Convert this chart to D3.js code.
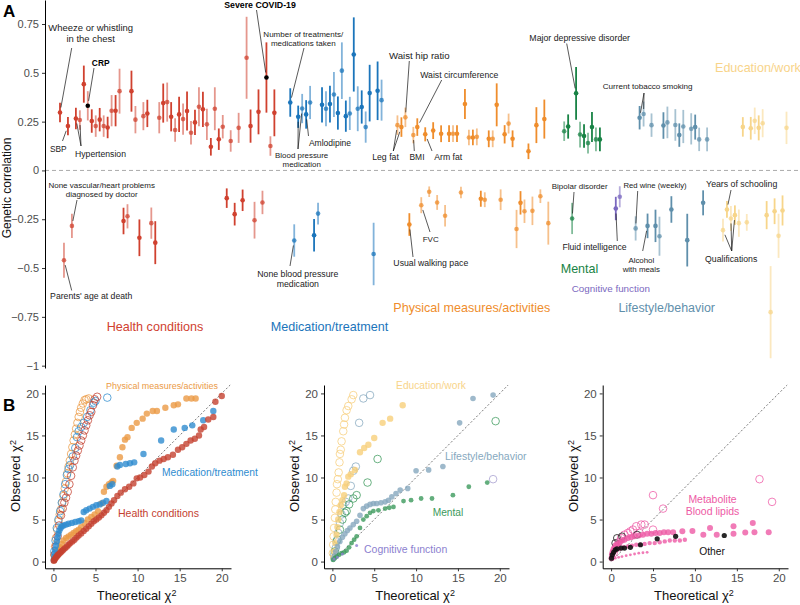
<!DOCTYPE html>
<html>
<head>
<meta charset="utf-8">
<script src="https://cdn.jsdelivr.net/npm/d3@7"></script>
<style>
  body { margin: 0; background: #fff; }
  svg { display: block; font-family: "Liberation Sans", Arial, Helvetica, sans-serif; }
</style>
</head>
<body>
<div id="chart"></div>
<script>
const width = 800;
const height = 605;

// ---- Panel A: genetic correlations, one slot per trait ----
const categories = ["Health conditions", "Medication/treatment", "Physical measures/activities",
  "Mental", "Cognitive function", "Lifestyle/behavior", "Education/work"];

const healthIdx = [0,1,2,3,4,5,6,7,8,9,10,11,12,13,14,15,16,17,18,19,20,21,22,23,24,25,26,27,28,29,30,31,32,33,34,35,36,37,38,39,40,41,42,43,44,45,46,47,48,49,50,51,52,53,54];
const healthRg = [0.297,-0.46,0.227,-0.284,0.266,0.258,0.442,0.331,0.253,0.227,0.26,0.227,0.22,0.306,0.306,0.406,-0.259,-0.235,0.406,0.26,-0.345,0.278,0.292,-0.27,-0.37,0.27,0.345,0.35,0.275,0.207,0.287,0.263,0.304,0.193,0.246,0.326,0.313,0.236,0.121,0.316,0.16,0.224,-0.142,0.151,-0.224,0.218,-0.153,0.577,0.227,-0.255,0.3,-0.164,0.476,0.125,0.295];
const healthCi = [0.05,0.09,0.047,0.062,0.055,0.05,0.095,0.075,0.06,0.055,0.06,0.055,0.055,0.08,0.08,0.115,0.068,0.062,0.105,0.07,0.094,0.072,0.07,0.08,0.11,0.08,0.1,0.1,0.075,0.06,0.09,0.08,0.1,0.06,0.065,0.1,0.09,0.08,0.045,0.11,0.055,0.06,0.05,0.055,0.058,0.077,0.055,0.21,0.085,0.094,0.115,0.06,0.18,0.05,0.12];

const medIdx = [58,59,60,61,62,63,64,65,66,67,68,69,70,71,72,73,74,75,76,77,78,79,80,81];
const medRg = [0.348,-0.359,0.275,0.317,0.287,0.348,-0.332,-0.221,0.336,0.316,0.34,0.389,0.294,0.511,0.278,0.292,0.594,0.316,0.325,0.222,0.396,-0.428,0.408,0.36];
const medCi = [0.073,0.083,0.057,0.075,0.073,0.085,0.083,0.056,0.09,0.09,0.094,0.115,0.085,0.145,0.08,0.085,0.19,0.115,0.085,0.08,0.145,0.16,0.15,0.105];

const physIdx = [85,86,87,88,89,90,91,92,93,94,95,96,97,98,99,100,101,102,103,104,105,106,107,108,109,110,111,112,113,114,115,116,117,118,119,120,121,122,123];
const physRg = [0.232,0.222,0.272,-0.277,0.181,0.222,-0.178,0.185,-0.109,0.204,-0.164,0.188,-0.232,0.188,0.188,0.188,-0.113,0.34,0.169,0.169,0.172,-0.145,-0.15,0.162,0.162,0.336,-0.15,0.185,0.24,0.162,-0.3,-0.166,-0.209,0.098,-0.207,0.232,-0.132,0.263,-0.27];
const physCi = [0.05,0.05,0.05,0.058,0.042,0.045,0.041,0.036,0.027,0.043,0.038,0.043,0.055,0.043,0.043,0.043,0.03,0.077,0.04,0.04,0.043,0.041,0.038,0.043,0.043,0.11,0.053,0.047,0.051,0.043,0.098,0.06,0.06,0.04,0.073,0.092,0.035,0.1,0.11];

const mentalIdx = [127,128,129,130,131,132,133,134,135,136];
const mentalRg = [0.201,0.225,-0.246,0.395,0.184,0.176,0.14,0.222,0.159,0.159];
const mentalCi = [0.05,0.062,0.08,0.135,0.066,0.06,0.053,0.077,0.061,0.061];

const cogIdx = [140,141];
const cogRg = [-0.195,-0.135];
const cogCi = [0.06,0.054];

const lifeIdx = [145,146,147,148,149,150,151,152,153,154,155,156,157,158,159,160,161,162,163];
const lifeRg = [-0.297,0.27,0.289,-0.284,0.232,-0.284,-0.337,0.23,0.246,-0.2,0.233,0.181,0.225,-0.357,0.213,0.222,0.159,-0.166,0.159];
const lifeCi = [0.062,0.06,0.064,0.063,0.06,0.083,0.1,0.068,0.081,0.068,0.081,0.06,0.085,0.135,0.08,0.064,0.06,0.064,0.061];

const eduIdx = [167,168,169,170,171,172,173,174,175,176,177,178,179,180,181,182,183];
const eduRg = [-0.306,-0.2,-0.246,-0.229,-0.27,0.223,-0.266,0.216,0.254,0.218,0.242,-0.229,-0.726,-0.209,-0.335,-0.205,0.218];
const eduCi = [0.058,0.043,0.064,0.05,0.07,0.05,0.043,0.058,0.068,0.064,0.072,0.072,0.236,0.066,0.113,0.077,0.083];

const highlighted = [7, 52]; // CRP, Severe COVID-19

const yTicksA = [0.75, 0.5, 0.25, 0, -0.25, -0.5, -0.75, -1];
const yTickLabelsA = ["0.75", "0.5", "0.25", "0", "\u22120.25", "\u22120.5", "\u22120.75", "\u22121"];

// ---- Panel B: QQ points [theoretical, observed] ----
const qqHealthFilled = [[0.05,0.1],[0.1,0.2],[0.2,0.35],[0.3,0.5],[0.4,0.6],[0.5,0.75],[0.6,0.85],[0.75,1.0],[0.9,1.15],[1.05,1.3],[1.2,1.45],[1.4,1.6],[1.6,1.8],[1.8,2.0],[2.0,2.2],[2.25,2.4],[2.5,2.6],[2.75,2.85],[3.0,3.1],[3.3,3.35],[3.6,3.65],[3.9,3.9],[4.2,4.2],[4.5,4.5],[4.8,4.8],[5.1,5.0],[5.4,5.25],[5.7,5.5],[6.0,5.8],[6.3,6.1],[6.6,6.5],[6.9,6.9],[7.2,7.3],[7.6,7.8],[8.0,8.2],[8.5,8.6],[9.0,8.9],[9.5,9.3],[9.9,9.9],[10.3,10.0],[10.8,10.3],[11.3,10.7],[11.7,11.3],[12.1,11.7],[12.6,12.0],[13.1,12.2],[13.6,12.4],[14.2,12.7],[14.8,13.3],[15.3,13.6],[15.8,14.0],[16.3,14.4],[16.8,14.6],[17.3,15.0],[17.5,15.7],[17.9,16.0],[18.4,16.9],[19.0,17.2],[19.25,19.0],[20.0,19.7]];
const qqPhysFilled = [[0.05,0.15],[0.15,0.4],[0.3,0.7],[0.45,1.0],[0.6,1.3],[0.8,1.7],[1.0,2.1],[1.2,2.5],[1.5,2.8],[1.8,3.0],[2.1,3.2],[2.4,3.4],[2.7,3.6],[3.0,3.8],[3.3,4.1],[3.7,4.6],[4.1,5.0],[4.5,5.3],[4.9,5.6],[5.3,6.0],[5.7,6.9],[6.0,8.3],[6.3,8.9],[6.6,9.2],[6.9,9.4],[7.1,9.6],[7.5,11.4],[7.9,12.4],[8.2,13.6],[8.5,14.5],[8.8,14.8],[9.3,15.9],[9.9,16.5],[10.6,17.0],[11.1,17.6],[11.8,17.9],[12.3,17.9],[13.3,18.3],[14.3,18.6],[14.8,18.7],[15.8,19.4],[16.4,19.4],[16.9,19.4]];
const qqMedFilled = [[0.05,0.2],[0.1,0.6],[0.15,1.0],[0.2,1.4],[0.3,1.9],[0.4,2.4],[0.5,2.9],[0.6,3.3],[0.7,3.7],[0.85,4.0],[1.0,4.2],[1.2,4.3],[1.5,4.4],[1.8,4.5],[2.2,4.6],[2.6,4.7],[3.0,4.8],[3.3,4.9],[3.6,5.9],[3.9,6.1],[4.3,6.3],[4.7,6.5],[5.1,6.7],[5.5,6.8],[5.9,7.0],[6.3,7.2],[6.7,9.0],[7.0,9.2],[7.6,11.3],[7.9,11.5],[8.6,11.6],[9.1,11.7],[9.6,11.8],[10.7,12.8],[12.8,14.4],[14.3,15.7],[15.6,15.9],[16.5,16.2],[17.8,16.8],[19.0,17.9]];
const qqPhysOpen = [[0.1,0.8],[0.2,1.8],[0.3,2.8],[0.45,3.8],[0.6,4.8],[0.75,5.6],[0.9,6.2],[1.05,7.0],[1.2,7.8],[1.35,8.7],[1.5,9.5],[1.65,10.5],[1.8,11.3],[1.95,12.0],[2.1,12.8],[2.25,13.6],[2.4,14.4],[2.55,15.1],[2.7,15.8],[2.85,16.5],[3.0,17.2],[3.15,17.8],[3.3,18.3],[3.5,18.8],[3.7,19.2],[3.9,19.3],[4.2,19.4]];
const qqHealthOpen = [[0.15,0.8],[0.3,1.8],[0.5,3.0],[0.7,4.3],[0.9,5.5],[1.1,6.3],[1.3,7.0],[1.5,7.6],[1.7,8.3],[1.9,9.2],[2.1,10.2],[2.3,11.2],[2.5,12.0],[2.7,12.6],[2.9,13.2],[3.1,13.8],[3.3,14.4],[3.5,15.0],[3.7,15.6],[3.9,16.2],[4.1,16.8],[4.3,17.4],[4.5,17.8],[4.7,18.6],[4.9,19.3],[5.2,19.6]];
const qqMedOpen = [[0.1,1.2],[0.25,2.5],[0.4,4.0],[0.6,5.0],[0.8,6.0],[1.0,7.0],[1.2,8.0],[1.4,9.2],[1.6,10.3],[1.8,11.0],[2.0,11.5],[2.3,12.5],[2.6,13.5],[2.8,14.8],[3.0,15.5],[3.3,16.0],[3.6,16.5],[4.0,17.2],[4.4,18.0],[4.8,18.9],[5.0,19.1],[6.4,19.5]];

const qqEduFilled = [[0.1,0.5],[0.2,1.2],[0.35,2.2],[0.5,3.2],[0.6,4.1],[0.7,5.0],[0.85,5.9],[1.0,6.7],[1.2,7.3],[1.4,7.9],[1.5,8.9],[1.7,9.3],[1.9,10.1],[2.2,10.4],[2.7,10.9],[3.3,13.0],[3.8,13.5],[4.3,13.9],[5.0,14.7],[6.0,16.5],[6.9,17.0],[8.4,18.6]];
const qqEduOpen = [[0.05,1.0],[0.1,2.0],[0.15,3.0],[0.2,4.0],[0.3,5.2],[0.35,6.2],[0.4,7.1],[0.5,8.2],[0.55,9.2],[0.65,9.8],[0.75,10.6],[0.85,11.8],[0.9,12.8],[1.0,13.3],[1.1,14.3],[1.3,15.5],[1.4,16.3],[1.5,17.1],[1.7,18.0],[1.9,18.5],[2.3,19.3],[2.5,19.8]];
const qqLifeFilled = [[0.1,0.3],[0.25,0.7],[0.4,1.2],[0.6,1.8],[0.9,2.4],[1.2,2.9],[1.5,3.3],[1.8,3.7],[2.1,4.0],[2.5,4.4],[2.9,4.8],[3.3,5.5],[3.7,6.3],[4.1,6.6],[4.5,6.8],[4.9,6.9],[5.3,6.9],[5.8,7.0],[6.3,7.1],[6.7,7.3],[7.1,7.7],[7.6,8.1],[8.1,8.5],[9.0,8.7],[10.0,10.8],[11.5,10.9],[13.2,11.3],[15.2,16.5],[16.8,19.4],[19.2,19.8]];
const qqLifeOpen = [[0.2,0.8],[0.4,1.6],[0.5,2.4],[0.7,3.4],[0.9,4.6],[1.1,5.6],[1.3,6.7],[1.6,7.1],[1.9,7.5],[2.2,9.0],[2.5,10.8],[2.8,11.3],[3.2,16.5],[3.7,19.4],[4.5,19.8]];
const qqMentalFilled = [[0.1,0.2],[0.3,0.4],[0.5,0.6],[0.8,0.8],[1.1,1.0],[1.4,1.1],[1.7,1.3],[2.0,1.7],[2.3,2.2],[2.6,2.6],[2.9,3.0],[3.3,4.0],[3.7,5.0],[4.1,5.4],[4.5,5.8],[4.9,6.0],[5.5,6.1],[6.3,6.3],[6.8,6.4],[7.3,6.5],[8.5,7.2],[9.4,7.3],[10.6,7.5],[11.9,7.5],[14.4,7.9],[16.3,8.9],[18.5,9.4]];
const qqMentalOpen = [[0.3,1.2],[0.6,2.6],[0.9,3.8],[1.2,5.0],[1.5,5.8],[1.7,6.0],[2.0,6.8],[2.5,7.5],[2.9,7.9],[4.2,9.4],[5.4,12.2],[19.5,16.7]];
const qqCogFilled = [[0.2,0.3],[0.6,0.5],[1.2,0.9],[2.9,1.9]];
const qqCogOpen = [[19.2,9.8]];

const qqMetaFilled = [[0.05,0.4],[0.1,0.8],[0.2,1.2],[0.3,1.5],[0.45,1.7],[0.6,1.9],[0.8,2.1],[1.0,2.3],[1.3,2.5],[1.6,2.6],[2.0,2.8],[2.4,2.9],[2.8,3.0],[3.3,3.1],[3.8,3.2],[4.3,3.3],[4.8,3.3],[5.3,3.4],[5.8,3.4],[6.3,3.5],[6.8,3.5],[7.4,3.5],[8.5,3.6],[9.7,3.65],[11.0,3.2],[11.8,4.0],[12.6,3.2],[14.6,4.2],[14.6,3.3],[16.0,3.45],[16.9,4.6],[17.1,3.5],[18.8,3.5]];
const qqMetaMid = [[0.3,1.0],[0.6,1.3],[1.0,1.5],[1.5,1.7],[2.0,1.8],[2.5,1.9],[3.0,2.0],[3.5,2.0],[4.0,2.1],[4.6,2.2],[5.2,2.2],[5.8,2.3],[6.4,2.4],[7.0,2.5],[7.6,2.5],[8.2,2.5],[8.8,2.6]];
const qqMetaLow = [[0.2,0.3],[0.5,0.4],[0.9,0.5],[1.3,0.6],[1.8,0.7],[2.3,0.8],[2.8,0.9],[3.3,1.0],[3.8,1.05],[4.3,1.1]];
const qqMetaOpen = [[0.3,1.0],[0.6,1.8],[0.9,2.3],[1.2,2.8],[1.6,3.2],[2.0,3.4],[2.3,3.6],[2.6,3.8],[3.0,4.2],[3.4,3.4],[3.6,4.4],[4.0,4.4],[5.0,3.8],[5.0,7.9],[6.2,6.3],[17.7,9.8],[19.2,7.1]];
const qqOtherFilled = [[0.05,0.4],[0.15,0.8],[0.3,1.1],[0.5,1.4],[0.7,1.5],[1.2,1.6],[1.6,1.6],[2.3,1.7],[3.5,2.0],[5.5,2.7],[7.7,3.0],[13.5,3.1]];
const qqOtherOpen = [[0.5,2.2],[0.7,2.8],[1.3,3.0],[3.1,3.2]];

const qqTicks = [0, 5, 10, 15, 20];

// ---- colours ----
const colA = ["#d0412f", "#1b75bb", "#ef8d2c", "#188345", "#7a68c0", "#5f8fab", "#f7d58a"];
const colB = {
  health: "#c4412f", phys: "#eb9a45", med: "#2f8ccf", life: "#86a8be", mental: "#3c9a5c",
  cog: "#8c7fcf", edu: "#f7cf7b", meta: "#ee5aa5", other: "#111"
};

const svg = d3.select("#chart").append("svg")
  .attr("width", width)
  .attr("height", height);

// sets font-size so the widest line of a text block spans w px
function fitSize(sel, w) {
  let maxLen = 0;
  sel.style("font-size", "10px").each(function() {
    maxLen = Math.max(maxLen, this.getComputedTextLength());
  });
  const size = 10 * w / maxLen;
  sel.style("font-size", size + "px");
  return size;
}

// ================= Panel A =================
const xA = d3.scaleLinear().domain([0, 183]).range([60, 786.5]);
const yA = d3.scaleLinear().domain([-1.012, 0.873]).range([368, 0]);

const traits = [];
[[healthIdx, healthRg, healthCi], [medIdx, medRg, medCi], [physIdx, physRg, physCi],
 [mentalIdx, mentalRg, mentalCi], [cogIdx, cogRg, cogCi], [lifeIdx, lifeRg, lifeCi],
 [eduIdx, eduRg, eduCi]].forEach(([idx, rg, ci], c) => {
  idx.forEach((d, i) => traits.push({ idx: d, rg: rg[i], ci: ci[i], cat: c }));
});
const traitByIdx = new Map(traits.map(d => [d.idx, d]));

svg.append("line")
  .attr("x1", 45).attr("x2", width)
  .attr("y1", yA(0)).attr("y2", yA(0))
  .attr("stroke", "#aaa")
  .attr("stroke-dasharray", "4,3");

const axisA = svg.append("g")
  .attr("transform", "translate(45,0)")
  .call(d3.axisLeft(yA).tickValues(yTicksA).tickFormat((d, i) => yTickLabelsA[i]).tickSize(3).tickSizeOuter(0));
axisA.select(".domain").attr("stroke", "#000");
axisA.selectAll(".tick line").attr("stroke", "#333");
axisA.selectAll(".tick text").attr("fill", "#4d4d4d").style("font-size", "11px");

svg.append("text")
  .attr("transform", "translate(11,188) rotate(-90)")
  .attr("text-anchor", "middle")
  .style("font-size", "12px")
  .attr("fill", "#111")
  .text("Genetic correlation");

const traitG = svg.append("g");
traitG.selectAll("line")
  .data(traits)
  .join("line")
  .attr("x1", d => xA(d.idx)).attr("x2", d => xA(d.idx))
  .attr("y1", d => yA(d.rg - d.ci)).attr("y2", d => yA(d.rg + d.ci))
  .attr("stroke", d => colA[d.cat])
  .attr("stroke-opacity", d => d.idx % 2 === 0 ? 1 : 0.55)
  .attr("stroke-width", 1.8);

traitG.selectAll("circle")
  .data(traits)
  .join("circle")
  .attr("cx", d => xA(d.idx))
  .attr("cy", d => yA(d.rg))
  .attr("r", 2.3)
  .attr("fill", d => highlighted.includes(d.idx) ? "#000" : colA[d.cat])
  .attr("fill-opacity", d => d.idx % 2 === 0 || highlighted.includes(d.idx) ? 1 : 0.75);

// annotations: placement (centre of first line) and width in px, leader drawn towards the trait point
const notes = [
  { lines: ["Wheeze or whistling", "in the chest"], x: 90.7, y: 27.7, w: 85, from: [71.7, 48], to: [0] },
  { lines: ["CRP"], x: 100.7, y: 63, w: 17.7, from: [94, 68], to: [7], bold: true },
  { lines: ["SBP"], x: 58.3, y: 149, w: 16.7, from: [62.5, 141], to: [2] },
  { lines: ["Hypertension"], x: 100.5, y: 154.3, w: 51, from: [81, 146], to: [4, 5] },
  { lines: ["Severe COVID-19"], x: 260, y: 5, w: 71.7, from: [256.5, 10], to: [52], bold: true },
  { lines: ["Number of treatments/", "medications taken"], x: 303.3, y: 33.7, w: 80, from: [304, 48], to: [58] },
  { lines: ["Amlodipine"], x: 330, y: 142.7, w: 42.3, from: [308.5, 136], to: [62] },
  { lines: ["Blood pressure", "medication"], x: 301.7, y: 155, w: 53.3, from: [298, 149], to: [60, 61] },
  { lines: ["Waist hip ratio"], x: 419.3, y: 56, w: 60.7, from: [409.3, 61], to: [87] },
  { lines: ["Waist circumference"], x: 459.3, y: 75, w: 78.3, from: [441.7, 80], to: [90] },
  { lines: ["Leg fat"], x: 385.5, y: 157.3, w: 26.7, from: [393.3, 151], to: [85, 86] },
  { lines: ["BMI"], x: 417, y: 157.3, w: 15, from: [414.3, 151], to: [89] },
  { lines: ["Arm fat"], x: 448.3, y: 157.3, w: 28, from: [432, 151], to: [92] },
  { lines: ["Major depressive disorder"], x: 579.7, y: 37.7, w: 100.7, from: [566.7, 43.5], to: [130] },
  { lines: ["Current tobacco smoking"], x: 647.7, y: 86, w: 90, from: [644, 93], to: [146, 147] },
  { lines: ["None vascular/heart problems", "diagnosed by doctor"], x: 101.7, y: 185.7, w: 106.7, from: [77, 200], to: [3] },
  { lines: ["Parents' age at death"], x: 91.2, y: 295.7, w: 82.3, from: [71.7, 290.5], to: [1] },
  { lines: ["None blood pressure", "medication"], x: 297.8, y: 274, w: 81, from: [290, 266], to: [59] },
  { lines: ["Usual walking pace"], x: 430.8, y: 263.3, w: 75, from: [413, 257], to: [88] },
  { lines: ["FVC"], x: 430.7, y: 239, w: 16, from: [430, 232], to: [91] },
  { lines: ["Bipolar disorder"], x: 579.7, y: 186.7, w: 56, from: [574, 192], to: [129] },
  { lines: ["Red wine (weekly)"], x: 655, y: 185, w: 63.3, from: [637.7, 191], to: [145] },
  { lines: ["Fluid intelligence"], x: 594.5, y: 247.3, w: 64.3, from: [617.3, 241], to: [140] },
  { lines: ["Alcohol", "with meals"], x: 641.3, y: 260, w: 37.3, from: [642.7, 251], to: [148] },
  { lines: ["Years of schooling"], x: 741.7, y: 184, w: 71.3, from: [731, 190], to: [168] },
  { lines: ["Qualifications"], x: 731.2, y: 259, w: 52.3, from: [731.7, 251], to: [167, 169, 170] }
];

const noteG = svg.append("g");
notes.forEach(n => {
  const block = noteG.append("g");
  const texts = block.selectAll("text")
    .data(n.lines)
    .join("text")
    .attr("x", n.x)
    .attr("dy", "0.35em")
    .attr("text-anchor", "middle")
    .style("font-weight", n.bold ? "bold" : null)
    .attr("fill", n.bold ? "#000" : "#222")
    .text(d => d);
  const size = fitSize(texts, n.w);
  texts.attr("y", (d, i) => n.y + i * size * 1.12);

  n.to.forEach(idx => {
    const t = traitByIdx.get(idx);
    const px = xA(t.idx), py = yA(t.rg);
    const dx = n.from[0] - px, dy = n.from[1] - py;
    const len = Math.hypot(dx, dy);
    noteG.append("line")
      .attr("x1", n.from[0]).attr("y1", n.from[1])
      .attr("x2", px + dx / len * 5).attr("y2", py + dy / len * 5)
      .attr("stroke", "#111")
      .attr("stroke-width", 0.7);
  });
});

// category labels in panel A
const catLabelsA = [
  { cat: 0, x: 155, y: 330.5, w: 96.7, anchor: "middle" },
  { cat: 1, x: 329.5, y: 330.5, w: 117.7, anchor: "middle" },
  { cat: 2, x: 393.3, y: 312, w: 157.3, anchor: "start" },
  { cat: 3, x: 579.5, y: 272.5, w: 37.6, anchor: "middle" },
  { cat: 4, x: 610.8, y: 291.5, w: 78.3, anchor: "middle" },
  { cat: 5, x: 666.7, y: 312, w: 96.7, anchor: "middle" },
  { cat: 6, x: 715, y: 71.5, w: 86, anchor: "start" }
];
catLabelsA.forEach(d => {
  const t = svg.append("text")
    .attr("x", d.x).attr("y", d.y)
    .attr("text-anchor", d.anchor)
    .attr("fill", d.cat === 6 ? "#f8d48a" : colA[d.cat])
    .text(categories[d.cat]);
  fitSize(t, d.w);
});

svg.append("text").attr("x", 3).attr("y", 17)
  .style("font-size", "17px").style("font-weight", "bold").text("A");
svg.append("text").attr("x", 3).attr("y", 411)
  .style("font-size", "17px").style("font-weight", "bold").text("B");

// ================= Panel B =================
const yB = d3.scaleLinear().domain([-0.8, 21]).range([568.3, 385]);

function qqPanel(left, right, layers, labels) {
  const x = d3.scaleLinear().domain([-1, 21.1]).range([left, right]);
  const g = svg.append("g");

  g.append("line")
    .attr("x1", x(0)).attr("y1", yB(0))
    .attr("x2", x(21)).attr("y2", yB(21))
    .attr("stroke", "#555")
    .attr("stroke-width", 0.8)
    .attr("stroke-dasharray", "2,2");

  layers.forEach(l => {
    g.append("g").selectAll("circle")
      .data(l.data)
      .join("circle")
      .attr("cx", d => x(d[0]))
      .attr("cy", d => yB(d[1]))
      .attr("r", l.r)
      .attr("fill", l.open ? "none" : l.color)
      .attr("fill-opacity", l.alpha || 0.8)
      .attr("stroke", l.open ? l.color : "none")
      .attr("stroke-width", 0.9)
      .attr("stroke-opacity", 0.85);
  });

  const xAxis = g.append("g")
    .attr("transform", `translate(0,${yB.range()[0]})`)
    .call(d3.axisBottom(x).tickValues(qqTicks).tickSize(3).tickSizeOuter(0));
  const yAxis = g.append("g")
    .attr("transform", `translate(${left},0)`)
    .call(d3.axisLeft(yB).tickValues(qqTicks).tickSize(3).tickSizeOuter(0));
  [xAxis, yAxis].forEach(a => {
    a.select(".domain").attr("stroke", "#000");
    a.selectAll(".tick line").attr("stroke", "#333");
    a.selectAll(".tick text").attr("fill", "#4d4d4d").style("font-size", "11.5px");
  });

  const xt = g.append("text")
    .attr("x", (x(0) + x(20)) / 2 - 1).attr("y", 600)
    .attr("text-anchor", "middle")
    .style("font-size", "13px")
    .attr("fill", "#111")
    .text("Theoretical \u03c7");
  xt.append("tspan").attr("dy", "-0.45em").style("font-size", "9px").text("2");

  const yt = g.append("text")
    .attr("transform", `translate(${left - 25},476) rotate(-90)`)
    .attr("text-anchor", "middle")
    .style("font-size", "13px")
    .attr("fill", "#111")
    .text("Observed \u03c7");
  yt.append("tspan").attr("dy", "-0.45em").style("font-size", "9px").text("2");

  labels.forEach(d => {
    const t = g.append("text")
      .attr("x", d.x).attr("y", d.y)
      .attr("text-anchor", d.anchor || "start")
      .attr("fill", d.color)
      .text(d.text);
    fitSize(t, d.w);
  });
}

qqPanel(45, 231, [
  { data: qqPhysOpen, color: colB.phys, open: true, r: 3.8 },
  { data: qqMedOpen, color: colB.med, open: true, r: 3.8 },
  { data: qqHealthOpen, color: colB.health, open: true, r: 3.8 },
  { data: qqPhysFilled, color: colB.phys, r: 3.2 },
  { data: qqMedFilled, color: colB.med, r: 3.2 },
  { data: qqHealthFilled, color: colB.health, r: 3.2 }
], [
  { text: "Physical measures/activities", x: 162, y: 389, w: 112, anchor: "middle", color: colB.phys },
  { text: "Medication/treatment", x: 162, y: 475.5, w: 96, color: colB.med },
  { text: "Health conditions", x: 118, y: 517, w: 81, color: colB.health }
]);

qqPanel(324, 509, [
  { data: qqEduOpen, color: colB.edu, open: true, r: 3.8 },
  { data: qqLifeOpen, color: colB.life, open: true, r: 3.8 },
  { data: qqMentalOpen, color: colB.mental, open: true, r: 3.8 },
  { data: qqCogOpen, color: "#a49ccf", open: true, r: 3.8 },
  { data: qqEduFilled, color: colB.edu, r: 3.2 },
  { data: qqLifeFilled, color: colB.life, r: 2.8 },
  { data: qqMentalFilled, color: colB.mental, r: 2.4 },
  { data: qqCogFilled, color: colB.cog, r: 1.5 }
], [
  { text: "Education/work", x: 431, y: 389, w: 70, anchor: "middle", color: "#f8d48a" },
  { text: "Lifestyle/behavior", x: 445, y: 459.5, w: 81.7, color: colB.life },
  { text: "Mental", x: 432.7, y: 515.5, w: 30.6, color: colB.mental },
  { text: "Cognitive function", x: 364, y: 553, w: 83.3, color: colB.cog }
]);

qqPanel(602.7, 788, [
  { data: qqMetaOpen, color: colB.meta, open: true, r: 3.8, alpha: 0.6 },
  { data: qqOtherOpen, color: colB.other, open: true, r: 3.5 },
  { data: qqMetaLow, color: colB.meta, r: 1.4 },
  { data: qqMetaMid, color: colB.meta, r: 2.2 },
  { data: qqMetaFilled, color: colB.meta, r: 3.0 },
  { data: qqOtherFilled, color: colB.other, r: 2.6, alpha: 0.9 }
], [
  { text: "Metabolite", x: 712.5, y: 503, w: 48.3, anchor: "middle", color: colB.meta },
  { text: "Blood lipids", x: 712.5, y: 515, w: 53.7, anchor: "middle", color: colB.meta },
  { text: "Other", x: 712, y: 555, w: 25.7, anchor: "middle", color: "#111" }
]);
</script>
</body>
</html>
